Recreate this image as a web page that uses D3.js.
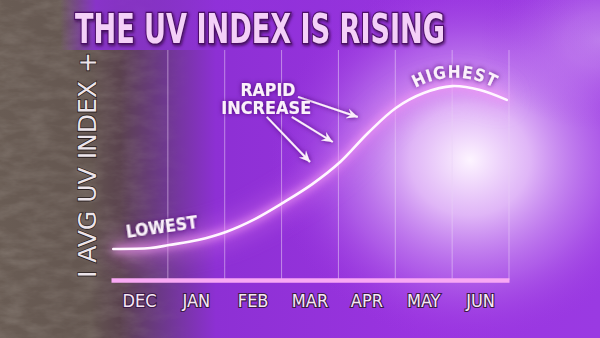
<!DOCTYPE html>
<html>
<head>
<meta charset="utf-8">
<script src="https://cdn.jsdelivr.net/npm/d3@7"></script>
<style>
  body { margin: 0; background: #000; }
  svg { display: block; }
</style>
</head>
<body>
<div id="chart"></div>
<script>
// months along the bottom
var months = ["DEC", "JAN", "FEB", "MAR", "APR", "MAY", "JUN"];

// curve: position in months (0 = start of DEC) and avg uv value (0-10)
var curvePos = [0.04, 0.69, 1.02, 1.53, 2.02, 2.53, 3.02, 3.54, 4.03, 4.52, 5.01, 5.5, 6.0, 6.49, 6.96];
var curveUV  = [1.35, 1.39, 1.52, 1.74, 2.09, 2.65, 3.35, 4.17, 5.13, 6.39, 7.48, 8.13, 8.43, 8.26, 7.83];

// arrows from "RAPID INCREASE" toward the curve (month pos / uv)
var arrowFrom = [[2.74, 7.09], [3.18, 7.09], [3.29, 7.96]];
var arrowTo   = [[3.5, 5.13], [3.9, 6.0], [4.34, 7.09]];

var title = "THE UV INDEX IS RISING";
var yLabel = "I AVG UV INDEX +";

var W = 600, H = 338;
var margin = { top: 50, right: 91, bottom: 58, left: 111 };

var svg = d3.select("#chart").append("svg")
  .attr("width", W)
  .attr("height", H);

var defs = svg.append("defs");

// background gradients
var bg = defs.append("linearGradient").attr("id", "bgGrad")
  .attr("x1", 0).attr("x2", 1).attr("y1", 0).attr("y2", 0);
bg.append("stop").attr("offset", "0").attr("stop-color", "#695c54");
bg.append("stop").attr("offset", "0.15").attr("stop-color", "#645650");
bg.append("stop").attr("offset", "0.2").attr("stop-color", "#5a424e");
bg.append("stop").attr("offset", "0.27").attr("stop-color", "#6c388a");
bg.append("stop").attr("offset", "0.36").attr("stop-color", "#8d30d4");
bg.append("stop").attr("offset", "0.7").attr("stop-color", "#9a34e0");
bg.append("stop").attr("offset", "1").attr("stop-color", "#9a3ae2");

var topFade = defs.append("linearGradient").attr("id", "topFade")
  .attr("x1", 0).attr("x2", 1).attr("y1", 0).attr("y2", 0);
topFade.append("stop").attr("offset", "0").attr("stop-color", "#6e6159").attr("stop-opacity", 0);
topFade.append("stop").attr("offset", "0.1").attr("stop-color", "#8a30d0").attr("stop-opacity", 0);
topFade.append("stop").attr("offset", "0.16").attr("stop-color", "#8c30d6").attr("stop-opacity", 0.9);
topFade.append("stop").attr("offset", "0.4").attr("stop-color", "#9232dc").attr("stop-opacity", 0.6);
topFade.append("stop").attr("offset", "1").attr("stop-color", "#9232dc").attr("stop-opacity", 0);

var glow = defs.append("radialGradient").attr("id", "sunGlow")
  .attr("cx", 0.5).attr("cy", 0.5).attr("r", 0.5);
glow.append("stop").attr("offset", "0").attr("stop-color", "#fdf4ff").attr("stop-opacity", 1);
glow.append("stop").attr("offset", "0.3").attr("stop-color", "#ecccfb").attr("stop-opacity", 0.85);
glow.append("stop").attr("offset", "0.65").attr("stop-color", "#c482f0").attr("stop-opacity", 0.5);
glow.append("stop").attr("offset", "1").attr("stop-color", "#9a34e0").attr("stop-opacity", 0);

var yAxGrad = defs.append("linearGradient").attr("id", "yAxGrad")
  .attr("x1", 0).attr("x2", 0).attr("y1", 0).attr("y2", 1);
yAxGrad.append("stop").attr("offset", "0").attr("stop-color", "#f6c8f6");
yAxGrad.append("stop").attr("offset", "0.6").attr("stop-color", "#f0e0fa");
yAxGrad.append("stop").attr("offset", "1").attr("stop-color", "#b8ccff");

// leather-ish texture
var tex = defs.append("filter").attr("id", "tex").attr("x", 0).attr("y", 0).attr("width", 1).attr("height", 1);
tex.append("feTurbulence").attr("type", "fractalNoise").attr("baseFrequency", "0.04 0.1").attr("numOctaves", 4).attr("seed", 4).attr("result", "n");
tex.append("feColorMatrix").attr("in", "n").attr("type", "matrix")
  .attr("values", "0 0 0 0 0.5  0 0 0 0 0.45  0 0 0 0 0.41  0 0 0 0.9 -0.3");
tex.append("feComposite").attr("in2", "SourceGraphic").attr("operator", "in");

var texMask = defs.append("linearGradient").attr("id", "texMask")
  .attr("x1", 0).attr("x2", 1).attr("y1", 0).attr("y2", 0);
texMask.append("stop").attr("offset", "0").attr("stop-color", "#fff").attr("stop-opacity", 1);
texMask.append("stop").attr("offset", "0.2").attr("stop-color", "#fff").attr("stop-opacity", 0.8);
texMask.append("stop").attr("offset", "0.32").attr("stop-color", "#fff").attr("stop-opacity", 0);
defs.append("mask").attr("id", "leftMask")
  .append("rect").attr("width", W).attr("height", H).attr("fill", "url(#texMask)");

// soft glow for lines
var soft = defs.append("filter").attr("id", "soft").attr("x", "-20%").attr("y", "-20%").attr("width", "140%").attr("height", "140%");
soft.append("feGaussianBlur").attr("stdDeviation", 4);

var blurBig = defs.append("filter").attr("id", "blurBig").attr("x", "-50%").attr("y", "-50%").attr("width", "200%").attr("height", "200%");
blurBig.append("feGaussianBlur").attr("stdDeviation", 12);

var shadow = defs.append("filter").attr("id", "shadow").attr("x", "-10%").attr("y", "-30%").attr("width", "120%").attr("height", "160%");
shadow.append("feDropShadow").attr("dx", 1).attr("dy", 1.5).attr("stdDeviation", 1.5).attr("flood-color", "#3a0850").attr("flood-opacity", 0.9);

var labelShadow = defs.append("filter").attr("id", "labelShadow").attr("x", "-10%").attr("y", "-30%").attr("width", "120%").attr("height", "160%");
labelShadow.append("feDropShadow").attr("dx", 0).attr("dy", 0).attr("stdDeviation", 2.5).attr("flood-color", "#4a0a70").attr("flood-opacity", 1);

// arrow head
defs.append("marker").attr("id", "head")
  .attr("viewBox", "0 0 12 12").attr("refX", 11).attr("refY", 6)
  .attr("markerWidth", 12).attr("markerHeight", 12).attr("markerUnits", "userSpaceOnUse")
  .attr("orient", "auto")
  .append("path")
  .attr("d", "M0,1 L11,6 L0,11 L4,6 Z")
  .attr("fill", "#fbeefb");

// background
svg.append("rect").attr("width", W).attr("height", H).attr("fill", "url(#bgGrad)");
svg.append("rect").attr("width", W).attr("height", H).attr("fill", "#fff").attr("filter", "url(#tex)").attr("mask", "url(#leftMask)").attr("opacity", 0.45);
svg.append("rect").attr("width", W).attr("height", 50).attr("fill", "url(#topFade)");
svg.append("ellipse").attr("cx", 470).attr("cy", 160).attr("rx", 200).attr("ry", 185).attr("fill", "url(#sunGlow)");
svg.append("ellipse").attr("cx", 600).attr("cy", 40).attr("rx", 120).attr("ry", 90).attr("fill", "url(#sunGlow)").attr("opacity", 0.35);

var innerW = W - margin.left - margin.right;
var innerH = H - margin.top - margin.bottom;

var x = d3.scaleLinear().domain([0, months.length]).range([margin.left, margin.left + innerW]);
var band = d3.scaleBand().domain(months).range([margin.left, margin.left + innerW]).padding(0);
var y = d3.scaleLinear().domain([0, 10]).range([margin.top + innerH, margin.top]);

// grid lines at month boundaries
svg.append("g")
  .selectAll("line")
  .data(months)
  .join("line")
  .attr("x1", d => band(d) + band.bandwidth())
  .attr("x2", d => band(d) + band.bandwidth())
  .attr("y1", y(10))
  .attr("y2", y(0))
  .attr("stroke", "#ead2f6")
  .attr("stroke-opacity", 0.55)
  .attr("stroke-width", 1);

// glow under the curve
var line = d3.line()
  .x((d, i) => x(curvePos[i]))
  .y(d => y(d))
  .curve(d3.curveCatmullRom.alpha(0.5));

svg.append("path")
  .datum(curveUV)
  .attr("d", line)
  .attr("fill", "none")
  .attr("stroke", "#e07af0")
  .attr("stroke-width", 14)
  .attr("opacity", 0.6)
  .attr("filter", "url(#blurBig)");

svg.append("path")
  .datum(curveUV)
  .attr("d", line)
  .attr("fill", "none")
  .attr("stroke", "#f39af5")
  .attr("stroke-width", 6)
  .attr("opacity", 0.9)
  .attr("filter", "url(#soft)");

svg.append("path")
  .datum(curveUV)
  .attr("d", line)
  .attr("fill", "none")
  .attr("stroke", "#fff6ff")
  .attr("stroke-width", 2.6)
  .attr("stroke-linecap", "round");

// axes
var xAxis = svg.append("g")
  .attr("transform", "translate(0," + y(0) + ")")
  .call(d3.axisBottom(band).tickSize(0).tickPadding(14));
xAxis.select(".domain")
  .attr("stroke", "#f8a8f4")
  .attr("stroke-width", 4.5);
xAxis.selectAll("text")
  .attr("font-family", "'Liberation Sans Narrow', 'DejaVu Sans Condensed', sans-serif")
  .attr("font-size", 18)
  .attr("fill", "#f7e8f6")
  .attr("stroke", "#3c1a48")
  .attr("stroke-width", 2.2)
  .attr("paint-order", "stroke")
  .attr("dy", "0.71em");

var yAxis = svg.append("g")
  .attr("transform", "translate(" + margin.left + ",0)")
  .call(d3.axisLeft(y).ticks(0).tickSize(0));
yAxis.select(".domain")
  .attr("stroke", "url(#yAxGrad)")
  .attr("stroke-width", 4.5)
  .attr("d", "M0," + (y(0) + 2) + "V" + y(10));

// y label
svg.append("text")
  .attr("transform", "translate(" + (margin.left - 15) + "," + (y(5)) + ") rotate(-90)")
  .attr("text-anchor", "middle")
  .attr("font-family", "'Liberation Sans Narrow', 'DejaVu Sans Condensed', sans-serif")
  .attr("font-size", 25)
  .attr("textLength", 226)
  .attr("lengthAdjust", "spacingAndGlyphs")
  .attr("fill", "#ece4ea")
  .attr("stroke", "#2a2020")
  .attr("stroke-width", 1.5)
  .attr("paint-order", "stroke")
  .text(yLabel);

// title
svg.append("text")
  .attr("x", 260)
  .attr("y", 43)
  .attr("text-anchor", "middle")
  .attr("font-family", "'Liberation Sans Narrow', 'DejaVu Sans Condensed', sans-serif")
  .attr("font-weight", "bold")
  .attr("font-size", 40)
  .attr("textLength", 370)
  .attr("lengthAdjust", "spacingAndGlyphs")
  .attr("fill", "#f4d0f8")
  .attr("stroke", "#4c1068")
  .attr("stroke-width", 2.5)
  .attr("paint-order", "stroke")
  .attr("filter", "url(#shadow)")
  .text(title);

// arrows
svg.append("g")
  .selectAll("line")
  .data(arrowFrom)
  .join("line")
  .attr("x1", d => x(d[0]))
  .attr("y1", d => y(d[1]))
  .attr("x2", (d, i) => x(arrowTo[i][0]))
  .attr("y2", (d, i) => y(arrowTo[i][1]))
  .attr("stroke", "#fbeefb")
  .attr("stroke-width", 2)
  .attr("marker-end", "url(#head)")
  .attr("filter", "url(#labelShadow)");

// annotation labels
var annFont = "'Liberation Sans Narrow', 'DejaVu Sans Condensed', sans-serif";

function ann(txt, px, py, size, len) {
  return svg.append("text")
    .attr("x", x(px))
    .attr("y", y(py))
    .attr("text-anchor", "middle")
    .attr("font-family", annFont)
    .attr("font-weight", "bold")
    .attr("font-size", size)
    .attr("textLength", len)
    .attr("lengthAdjust", "spacingAndGlyphs")
    .attr("fill", "#fbf0fb")
    .attr("filter", "url(#labelShadow)")
    .text(txt);
}

ann("RAPID", 2.76, 8.0, 17, 55);
ann("INCREASE", 2.73, 7.2, 17, 90);

// LOWEST, tilted
var lowX = x(0.28), lowY = y(1.83);
svg.append("text")
  .attr("transform", "translate(" + lowX + "," + lowY + ") rotate(-8)")
  .attr("font-family", annFont)
  .attr("font-weight", "bold")
  .attr("font-size", 18)
  .attr("textLength", 72)
  .attr("lengthAdjust", "spacingAndGlyphs")
  .attr("fill", "#fbf0fb")
  .attr("filter", "url(#labelShadow)")
  .text("LOWEST");

// HIGHEST, along an arc over the peak
var hx = x(6.05), hy = y(8.8), r = 80;
defs.append("path")
  .attr("id", "arcHigh")
  .attr("d", "M" + (hx - r) + "," + (hy + r) + " A" + r + "," + r + " 0 0,1 " + (hx + r) + "," + (hy + r));
svg.append("text")
  .attr("font-family", annFont)
  .attr("font-weight", "bold")
  .attr("font-size", 17)
  .attr("fill", "#fbf0fb")
  .attr("filter", "url(#labelShadow)")
  .append("textPath")
  .attr("href", "#arcHigh")
  .attr("startOffset", "50%")
  .attr("text-anchor", "middle")
  .attr("letter-spacing", 1)
  .text("HIGHEST");
</script>
</body>
</html>
